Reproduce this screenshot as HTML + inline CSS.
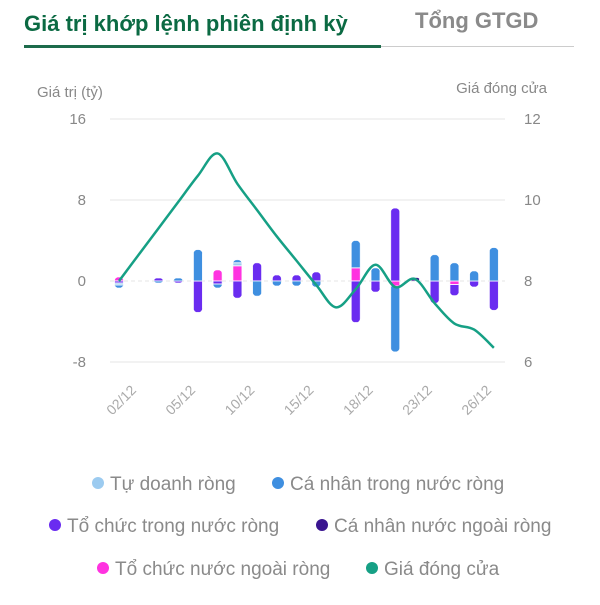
<!DOCTYPE html>
<html><head><meta charset="utf-8"><style>
body{margin:0;background:#fff;width:600px;height:600px;overflow:hidden;font-family:"Liberation Sans",sans-serif}
</style></head><body>
<svg width="600" height="600" xmlns="http://www.w3.org/2000/svg">
<text x="24" y="31" font-size="22" fill="#0b6a43" font-weight="bold">Giá trị khớp lệnh phiên định kỳ</text>
<text x="415" y="28" font-size="22" fill="#8a8a8a" font-weight="bold">Tổng GTGD</text>
<rect x="24" y="45" width="357" height="3" fill="#1d6b4b"/>
<rect x="381" y="46" width="193" height="1" fill="#ccc"/>
<text x="37" y="97" font-size="15" fill="#888">Giá trị (tỷ)</text>
<text x="547" y="93" font-size="15" fill="#888" text-anchor="end">Giá đóng cửa</text>
<g id="grid"></g><g id="bars"></g><g id="line"></g><g id="xl"></g>
<g id="legend" font-size="19" fill="#8a8a8a"></g>
</svg>
<script>
const categories=["02/12","03/12","04/12","05/12","08/12","09/12","10/12","11/12","12/12","15/12","16/12","17/12","18/12","19/12","22/12","23/12","24/12","25/12","26/12","27/12"];
const shownLabels=["02/12","05/12","10/12","15/12","18/12","23/12","26/12"];
const tuDoanh=[-0.2,0,0,0,0,0,0.3,0,0,0,0,0,0,0,0,0,0,0,0,0];
const caNhanTN=[-0.3,0,-0.2,0.3,3.1,-0.4,0.3,-1.5,-0.5,-0.5,-0.6,0,2.7,1.3,-6.5,0,2.6,1.8,1.0,3.3];
const toChucTN=[-0.2,0,0.3,-0.2,-3.1,-0.3,-1.7,1.8,0.6,0.6,0.9,0,-4.1,-1.1,7.2,0,-2.2,-1.1,-0.6,-2.9];
const caNhanNN=[0,0,0,0,0,0,0,0,0,0,0,0,0,0,0,0.35,0,0,0,0];
const toChucNN=[0.4,0,0,0,0,1.1,1.5,0,0,0,0,0,1.3,0,-0.5,0,0,-0.35,0,0];
const price=[8.0,8.65,9.3,9.95,10.6,11.15,10.4,9.75,9.1,8.5,7.9,7.35,7.8,8.4,7.85,8.05,7.45,6.95,6.8,6.35];
const leftTicks=[16,8,0,-8], rightTicks=[12,10,8,6];
const NS="http://www.w3.org/2000/svg";
const x0=119,dx=19.73;
const X=i=>x0+i*dx, Y=v=>281-v*10.125, YP=v=>281-(v-8)*40.5;
function mk(t,a,p){const e=document.createElementNS(NS,t);for(const k in a)e.setAttribute(k,a[k]);document.getElementById(p).appendChild(e);return e;}
leftTicks.forEach((t,i)=>{
 const l=mk('line',{x1:110,x2:505,y1:Y(t),y2:Y(t),stroke:'#e4e4e4','stroke-width':1,'stroke-dasharray':t===0?'4 3':''},'grid');
 
 
 const a=mk('text',{x:86,y:Y(t)+5,'font-size':15,fill:'#888','text-anchor':'end'},'grid');a.textContent=t;
 
 
 const b=mk('text',{x:524,y:Y(t)+5,'font-size':15,fill:'#888'},'grid');b.textContent=rightTicks[i];
 
 
});
const series=[[toChucNN,'#ff33e0'],[caNhanNN,'#3a1590'],[toChucTN,'#6a2cf0'],[tuDoanh,'#9ccbf0'],[caNhanTN,'#3f8fe0']];
categories.forEach((c,i)=>{
 let pos=0,neg=0;
 const segs=[];
 series.forEach(([arr,col])=>{
  const v=arr[i]; if(!v)return;
  let a,b; if(v>0){a=pos;b=pos+v;pos=b;}else{a=neg;b=neg+v;neg=b;}
  segs.push([a,b,col]);
 });
 if(!segs.length)return;
 const top=Y(pos),bot=Y(neg),cid='clip'+i;
 const cp=mk('clipPath',{id:cid},'bars');
 const cr=document.createElementNS(NS,'rect');
 cr.setAttribute('x',X(i)-4.5);cr.setAttribute('y',top);cr.setAttribute('width',9);cr.setAttribute('height',Math.max(bot-top,3));cr.setAttribute('rx',4.5);
 cp.appendChild(cr);
 segs.forEach(([a,b,col])=>{
  const r=mk('rect',{x:X(i)-4.5,y:Math.min(Y(a),Y(b)),width:9,height:Math.max(Math.abs(Y(a)-Y(b)),1.5),fill:col,stroke:'#fff','stroke-width':0.8,'clip-path':`url(#${cid})`},'bars');
  
  
 });
});
let d='';const pts=price.map((v,i)=>[X(i),YP(v)]);
pts.forEach((p,i)=>{if(!i){d='M'+p[0]+','+p[1];return;}
 const p0=pts[i-2]||pts[i-1],p1=pts[i-1],p3=pts[i+1]||p;
 d+=` C${p1[0]+(p[0]-p0[0])/6},${p1[1]+(p[1]-p0[1])/6} ${p[0]-(p3[0]-p1[0])/6},${p[1]-(p3[1]-p1[1])/6} ${p[0]},${p[1]}`;});
const pl=mk('path',{d,fill:'none',stroke:'#16a085','stroke-width':2.5},'line');


categories.forEach((c,i)=>{if(!shownLabels.includes(c))return;
 const t=mk('text',{x:X(i)+18,y:391,'font-size':14,fill:'#aaa','text-anchor':'end',transform:`rotate(-45 ${X(i)+18} 391)`},'xl');t.textContent=c;
 
 
});
const leg=[["Tự doanh ròng",'#9ccbf0',98,483],["Cá nhân trong nước ròng",'#3f8fe0',278,483],["Tổ chức trong nước ròng",'#6a2cf0',55,525],["Cá nhân nước ngoài ròng",'#3a1590',322,525],["Tổ chức nước ngoài ròng",'#ff33e0',103,568],["Giá đóng cửa",'#16a085',372,568]];
leg.forEach(([n,c,x,y])=>{
 const g=mk('g',{},'legend');
 
 
 const ci=document.createElementNS(NS,'circle');ci.setAttribute('cx',x);ci.setAttribute('cy',y);ci.setAttribute('r',6);ci.setAttribute('fill',c);g.appendChild(ci);
 const t=document.createElementNS(NS,'text');t.setAttribute('x',x+12);t.setAttribute('y',y+7);t.textContent=n;g.appendChild(t);
});
</script>
</body></html>
